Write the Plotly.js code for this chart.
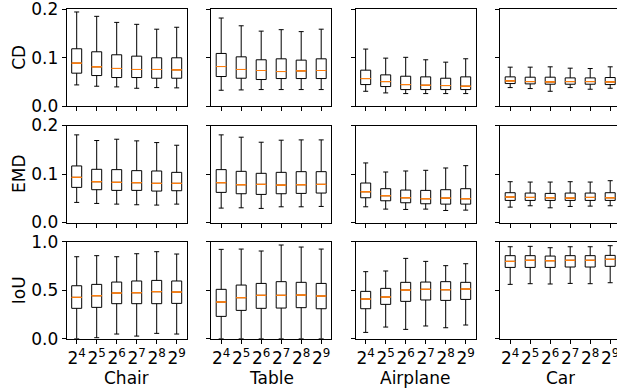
<!DOCTYPE html>
<html>
<head>
<meta charset="utf-8">
<script src="https://cdn.plot.ly/plotly-3.0.1.min.js"></script>
<style>html,body{margin:0;padding:0;overflow:hidden;background:#fff;}#plot{width:621px;height:389px;}</style>
</head>
<body>
<div id="plot"></div>
<script>
// ---- data ----
const categories = ["Chair", "Table", "Airplane", "Car"];
const metrics = ["CD", "EMD", "IoU"];
const positions = [1, 2, 3, 4, 5, 6];
const tickLabels = ["2<sup>4</sup>", "2<sup>5</sup>", "2<sup>6</sup>", "2<sup>7</sup>", "2<sup>8</sup>", "2<sup>9</sup>"];

// CD row
const cdChairLow  = [0.0441, 0.0414, 0.0400, 0.0372, 0.0386, 0.0380];
const cdChairQ1   = [0.0683, 0.0634, 0.0593, 0.0593, 0.0579, 0.0579];
const cdChairMed  = [0.0890, 0.0814, 0.0780, 0.0759, 0.0759, 0.0752];
const cdChairQ3   = [0.1186, 0.1124, 0.1062, 0.1034, 0.1000, 0.1000];
const cdChairHigh = [0.1945, 0.1855, 0.1730, 0.1690, 0.1590, 0.1630];

const cdTableLow  = [0.0331, 0.0338, 0.0345, 0.0345, 0.0345, 0.0345];
const cdTableQ1   = [0.0614, 0.0579, 0.0552, 0.0572, 0.0572, 0.0572];
const cdTableMed  = [0.0820, 0.0759, 0.0738, 0.0717, 0.0731, 0.0738];
const cdTableQ3   = [0.1090, 0.1020, 0.0959, 0.0979, 0.0952, 0.0979];
const cdTableHigh = [0.1820, 0.1660, 0.1550, 0.1580, 0.1540, 0.1590];

const cdPlaneLow  = [0.0310, 0.0276, 0.0262, 0.0262, 0.0262, 0.0262];
const cdPlaneQ1   = [0.0448, 0.0407, 0.0345, 0.0345, 0.0345, 0.0345];
const cdPlaneMed  = [0.0572, 0.0510, 0.0448, 0.0434, 0.0428, 0.0414];
const cdPlaneQ3   = [0.0745, 0.0648, 0.0620, 0.0607, 0.0579, 0.0607];
const cdPlaneHigh = [0.1180, 0.0993, 0.1010, 0.0959, 0.0910, 0.0980];

const cdCarLow  = [0.0386, 0.0366, 0.0310, 0.0386, 0.0352, 0.0372];
const cdCarQ1   = [0.0469, 0.0462, 0.0455, 0.0455, 0.0455, 0.0448];
const cdCarMed  = [0.0524, 0.0510, 0.0503, 0.0510, 0.0510, 0.0503];
const cdCarQ3   = [0.0607, 0.0600, 0.0600, 0.0586, 0.0586, 0.0593];
const cdCarHigh = [0.0807, 0.0807, 0.0814, 0.0786, 0.0779, 0.0814];

// EMD row
const emdChairLow  = [0.0414, 0.0393, 0.0379, 0.0366, 0.0359, 0.0379];
const emdChairQ1   = [0.0724, 0.0676, 0.0662, 0.0662, 0.0648, 0.0655];
const emdChairMed  = [0.0931, 0.0841, 0.0828, 0.0821, 0.0807, 0.0807];
const emdChairQ3   = [0.1166, 0.1097, 0.1090, 0.1069, 0.1062, 0.1034];
const emdChairHigh = [0.1807, 0.1690, 0.1717, 0.1683, 0.1648, 0.1593];

const emdTableLow  = [0.0297, 0.0303, 0.0290, 0.0324, 0.0324, 0.0331];
const emdTableQ1   = [0.0621, 0.0593, 0.0579, 0.0593, 0.0600, 0.0607];
const emdTableMed  = [0.0821, 0.0779, 0.0786, 0.0772, 0.0779, 0.0786];
const emdTableQ3   = [0.1090, 0.1055, 0.1014, 0.1034, 0.1048, 0.1048];
const emdTableHigh = [0.1807, 0.1759, 0.1655, 0.1697, 0.1703, 0.1703];

const emdPlaneLow  = [0.0324, 0.0276, 0.0269, 0.0276, 0.0248, 0.0255];
const emdPlaneQ1   = [0.0510, 0.0448, 0.0407, 0.0386, 0.0379, 0.0379];
const emdPlaneMed  = [0.0634, 0.0552, 0.0510, 0.0490, 0.0503, 0.0490];
const emdPlaneQ3   = [0.0814, 0.0697, 0.0669, 0.0662, 0.0676, 0.0697];
const emdPlaneHigh = [0.1228, 0.1041, 0.1062, 0.1076, 0.1124, 0.1172];

const emdCarLow  = [0.0317, 0.0345, 0.0303, 0.0331, 0.0338, 0.0345];
const emdCarQ1   = [0.0455, 0.0455, 0.0455, 0.0455, 0.0455, 0.0455];
const emdCarMed  = [0.0524, 0.0517, 0.0510, 0.0503, 0.0517, 0.0510];
const emdCarQ3   = [0.0614, 0.0607, 0.0600, 0.0607, 0.0607, 0.0614];
const emdCarHigh = [0.0841, 0.0834, 0.0834, 0.0841, 0.0834, 0.0862];

// IoU row
const iouChairLow  = [0.000, 0.010, 0.048, 0.027, 0.055, 0.048];
const iouChairQ1   = [0.313, 0.323, 0.361, 0.361, 0.361, 0.364];
const iouChairMed  = [0.426, 0.443, 0.471, 0.474, 0.485, 0.481];
const iouChairQ3   = [0.546, 0.560, 0.584, 0.595, 0.601, 0.595];
const iouChairHigh = [0.845, 0.856, 0.845, 0.876, 0.897, 0.873];

const iouTableLow  = [0.000, 0.000, 0.000, 0.000, 0.000, 0.000];
const iouTableQ1   = [0.230, 0.292, 0.313, 0.316, 0.320, 0.309];
const iouTableMed  = [0.378, 0.423, 0.447, 0.447, 0.450, 0.440];
const iouTableQ3   = [0.509, 0.553, 0.570, 0.588, 0.581, 0.570];
const iouTableHigh = [0.921, 0.924, 0.904, 0.966, 0.945, 0.924];

const iouPlaneLow  = [0.065, 0.120, 0.096, 0.131, 0.113, 0.141];
const iouPlaneQ1   = [0.309, 0.354, 0.385, 0.399, 0.395, 0.405];
const iouPlaneMed  = [0.409, 0.430, 0.502, 0.509, 0.505, 0.512];
const iouPlaneQ3   = [0.488, 0.519, 0.581, 0.584, 0.588, 0.581];
const iouPlaneHigh = [0.691, 0.698, 0.828, 0.797, 0.753, 0.773];

const iouCarLow  = [0.560, 0.567, 0.564, 0.570, 0.567, 0.577];
const iouCarQ1   = [0.735, 0.735, 0.735, 0.739, 0.739, 0.746];
const iouCarMed  = [0.797, 0.808, 0.804, 0.808, 0.808, 0.818];
const iouCarQ3   = [0.856, 0.856, 0.852, 0.856, 0.856, 0.859];
const iouCarHigh = [0.948, 0.952, 0.938, 0.948, 0.948, 0.959];

const yRanges = [[0, 0.2], [0, 0.2], [0, 1.0]];
const yDticks = [0.1, 0.1, 0.5];

const panels = [
  [[cdChairLow, cdChairQ1, cdChairMed, cdChairQ3, cdChairHigh],
   [cdTableLow, cdTableQ1, cdTableMed, cdTableQ3, cdTableHigh],
   [cdPlaneLow, cdPlaneQ1, cdPlaneMed, cdPlaneQ3, cdPlaneHigh],
   [cdCarLow, cdCarQ1, cdCarMed, cdCarQ3, cdCarHigh]],
  [[emdChairLow, emdChairQ1, emdChairMed, emdChairQ3, emdChairHigh],
   [emdTableLow, emdTableQ1, emdTableMed, emdTableQ3, emdTableHigh],
   [emdPlaneLow, emdPlaneQ1, emdPlaneMed, emdPlaneQ3, emdPlaneHigh],
   [emdCarLow, emdCarQ1, emdCarMed, emdCarQ3, emdCarHigh]],
  [[iouChairLow, iouChairQ1, iouChairMed, iouChairQ3, iouChairHigh],
   [iouTableLow, iouTableQ1, iouTableMed, iouTableQ3, iouTableHigh],
   [iouPlaneLow, iouPlaneQ1, iouPlaneMed, iouPlaneQ3, iouPlaneHigh],
   [iouCarLow, iouCarQ1, iouCarMed, iouCarQ3, iouCarHigh]]
];

// ---- layout geometry ----
const W = 621, H = 389;
const FONT = "DejaVu Sans";
const FS = 17;
function xd(c) { const l = 66.7 + 144.5 * c; return [l / W, (l + 120) / W]; }
function yd(r) { const t = 9.3 + 116.2 * r; return [(H - t - 97) / H, (H - t) / H]; }

const data = [];
const annotations = [];
const layout = {
  width: W, height: H,
  margin: {l: 0, r: 0, t: 0, b: 0},
  paper_bgcolor: "#fff", plot_bgcolor: "#fff",
  showlegend: false,
  font: {family: FONT, size: FS, color: "#000"},
  boxmode: "overlay",
  annotations: annotations
};

// row titles (y-axis titles) and column titles (x-axis titles)
metrics.forEach((m, r) => {
  const d = yd(r);
  annotations.push({text: m, xref: "paper", yref: "paper", x: 19 / W, y: (d[0] + d[1]) / 2,
    xanchor: "center", yanchor: "middle", textangle: -90, showarrow: false,
    font: {family: FONT, size: FS, color: "#000"}});
});
categories.forEach((cat, c) => {
  const d = xd(c);
  annotations.push({text: cat, xref: "paper", yref: "paper", x: (d[0] + d[1]) / 2, y: (H - 367) / H,
    xanchor: "center", yanchor: "top", height: 19, valign: "bottom", showarrow: false,
    font: {family: FONT, size: FS, color: "#000"}});
});

for (let r = 0; r < 3; r++) {
  for (let c = 0; c < 4; c++) {
    const i = r * 4 + c + 1;
    const xa = i === 1 ? "x" : "x" + i;
    const ya = i === 1 ? "y" : "y" + i;
    const [low, q1, med, q3, high] = panels[r][c];
    data.push({
      type: "box", x: positions, q1: q1, median: med, q3: q3,
      lowerfence: low, upperfence: high,
      xaxis: xa, yaxis: ya, width: 0.5, whiskerwidth: 0.5,
      boxpoints: false, fillcolor: "rgba(0,0,0,0)",
      line: {color: "#000", width: 1}, hoverinfo: "skip"
    });
    // median line in orange
    data.push({
      type: "box", x: positions, q1: med, median: med, q3: med,
      lowerfence: med, upperfence: med,
      xaxis: xa, yaxis: ya, width: 0.5, whiskerwidth: 0,
      boxpoints: false, fillcolor: "rgba(0,0,0,0)",
      line: {color: "#ff7f0e", width: 1}, hoverinfo: "skip"
    });
    const axBase = {
      showline: true, mirror: true, linecolor: "#000", linewidth: 1,
      ticks: "outside", ticklen: 4, tickwidth: 1, tickcolor: "#000",
      showgrid: false, zeroline: false, fixedrange: true,
      ticklabeloverflow: "allow",
      tickfont: {family: FONT, size: FS, color: "#000"}
    };
    layout["xaxis" + (i === 1 ? "" : i)] = Object.assign({}, axBase, {
      domain: xd(c), anchor: ya, range: [0.5, 6.5],
      tickmode: "array", tickvals: positions, ticktext: tickLabels,
      tickangle: 0,
      showticklabels: r === 2
    });
    layout["yaxis" + (i === 1 ? "" : i)] = Object.assign({}, axBase, {
      domain: yd(r), anchor: xa, range: yRanges[r],
      tick0: 0, dtick: yDticks[r], tickformat: ".1f",
      showticklabels: c === 0
    });
  }
}

Plotly.newPlot("plot", data, layout, {staticPlot: true, displayModeBar: false});
</script>
</body>
</html>
